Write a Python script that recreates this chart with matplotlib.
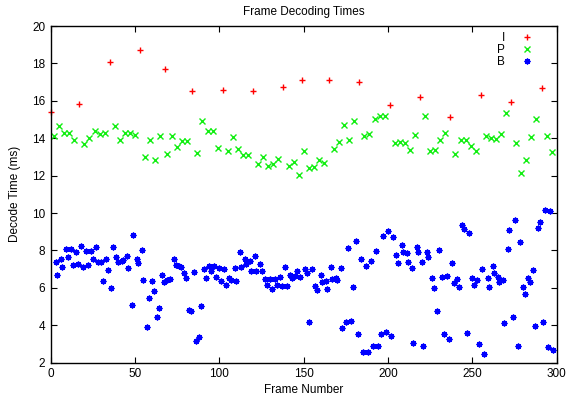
import matplotlib
matplotlib.use("Agg")
import matplotlib.pyplot as plt

plt.rcParams['font.family'] = ['Liberation Sans', 'DejaVu Sans']

# I frames
i_frames = [0, 17, 35, 53, 68, 84, 102, 120, 138, 149, 165, 183, 201, 219, 237, 255, 273, 291]
i_times = [15.38, 15.81, 18.06, 18.73, 17.72, 16.54, 16.56, 16.51, 16.72, 17.1, 17.1, 17.0,
           15.76, 16.22, 15.12, 16.33, 15.92, 16.67]

# P frames
p_frames = [2, 5, 8, 11, 14, 20, 23, 26, 29, 32, 38, 41, 44, 47, 50, 56, 59, 62, 65, 69,
            72, 75, 78, 81, 87, 90, 93, 96, 99, 105, 108, 111, 114, 117, 123, 126, 129, 132,
            135, 141, 144, 147, 150, 153, 156, 159, 162, 168, 171, 174, 177, 180, 186, 189,
            192, 195, 198, 204, 207, 210, 213, 216, 222, 225, 228, 231, 234, 240, 243, 246,
            249, 252, 258, 261, 264, 267, 270, 276, 279, 282, 285, 288, 294, 297]
p_times = [14.10, 14.64, 14.29, 14.29, 13.90, 13.71, 14.03, 14.39, 14.24, 14.29,
           14.64, 13.90, 14.29, 14.29, 14.17, 13.01, 13.92, 12.82, 14.12, 13.14,
           14.10, 13.55, 13.85, 13.85, 13.22, 14.92, 14.39, 14.39, 13.49, 13.32,
           14.06, 13.42, 13.12, 13.12, 12.62, 12.98, 12.51, 12.60, 12.90, 12.53,
           12.74, 12.05, 13.33, 12.39, 12.48, 12.82, 12.69, 13.42, 13.80, 14.71,
           13.89, 14.90, 14.10, 14.22, 15.01, 15.20, 15.19, 13.73, 13.81, 13.73,
           13.39, 14.16, 15.17, 13.30, 13.35, 13.89, 14.26, 13.14, 13.89, 13.89,
           13.58, 13.32, 14.10, 14.01, 13.96, 14.22, 15.35, 13.73, 12.16, 12.83,
           14.05, 15.04, 14.10, 13.25]

# B frames
b_frames = [3, 4, 6, 7, 9, 10, 12, 13, 15, 16, 18, 19, 21, 22, 24, 25, 27, 28, 30, 31,
            33, 34, 36, 37, 39, 40, 42, 43, 45, 46, 48, 49, 51, 52, 54, 55, 57, 58, 60, 61,
            63, 64, 66, 67, 69, 71, 73, 74, 76, 77, 79, 80, 82, 83, 85, 86, 88, 89, 91, 92,
            94, 95, 97, 98, 100, 101, 103, 104, 106, 107, 109, 110, 112, 113, 115, 116, 118, 119,
            121, 122, 124, 125, 127, 128, 130, 131, 133, 134, 136, 137, 139, 140, 142, 143,
            145, 146, 148, 151, 152, 153, 155, 157, 158, 160, 161, 163, 164, 166, 167, 169, 170,
            172, 173, 175, 176, 178, 179, 181, 182, 184, 185, 187, 188, 190, 191, 193, 194,
            196, 197, 199, 200, 202, 203, 205, 206, 208, 209, 211, 212, 214, 215, 217, 218,
            220, 221, 223, 224, 226, 227, 229, 230, 232, 233, 235, 236, 238, 239, 241, 242,
            244, 245, 247, 248, 250, 251, 253, 254, 256, 257, 259, 260, 262, 263, 265, 266,
            268, 269, 271, 272, 274, 275, 277, 278, 280, 281, 283, 284, 286, 287, 289, 290,
            292, 293, 295, 296, 298]
b_times = [7.38, 6.68, 7.52, 7.13, 8.06, 7.63, 8.09, 7.20, 7.90, 7.26, 8.24, 7.11, 7.95, 7.20,
           7.98, 7.52, 8.20, 7.40, 7.40, 6.35, 7.56, 6.94, 5.97, 8.18, 7.66, 7.40, 7.43, 7.47,
           7.68, 7.07, 5.06, 8.82, 7.52, 7.31, 8.02, 6.43, 3.90, 5.47, 6.36, 5.84, 4.42, 4.92,
           6.70, 6.31, 6.40, 6.45, 7.52, 7.20, 7.17, 7.10, 6.81, 6.51, 4.83, 4.78, 6.83, 3.17,
           3.38, 5.04, 7.02, 6.51, 7.18, 6.88, 7.18, 6.56, 7.07, 6.35, 6.99, 6.17, 6.52, 6.42,
           7.04, 6.36, 7.93, 7.11, 7.52, 7.27, 7.45, 6.91, 7.70, 6.91, 7.26, 6.90, 6.47, 6.17,
           6.47, 5.92, 6.45, 6.13, 6.59, 6.08, 7.11, 6.08, 6.70, 6.51, 6.65, 6.90, 6.58, 6.99,
           6.81, 4.16, 6.99, 6.10, 5.87, 6.70, 6.29, 6.36, 5.95, 7.11, 6.47, 6.54, 6.40, 7.06,
           3.85, 4.16, 8.11, 4.23, 6.03, 8.50, 3.51, 7.52, 2.58, 7.17, 2.58, 7.45, 2.89, 7.97,
           2.89, 3.55, 8.77, 3.62, 9.05, 3.41, 8.72, 7.74, 7.33, 8.27, 7.90, 7.88, 7.38, 7.08,
           3.03, 8.18, 7.93, 7.38, 2.89, 7.91, 7.66, 6.51, 6.01, 4.74, 8.04, 6.58, 3.55, 6.63,
           3.28, 7.31, 6.24, 6.47, 6.03, 9.37, 9.14, 3.57, 8.93, 6.51, 6.17, 6.42, 2.98, 7.01,
           2.44, 6.52, 6.06, 7.17, 6.79, 6.58, 6.31, 6.42, 4.10, 8.06, 9.09, 4.44, 9.61, 2.87,
           8.45, 6.04, 5.67, 6.51, 6.29, 6.97, 3.96, 9.20, 9.54, 4.16, 10.18, 2.83, 10.09, 2.67]

fig = plt.figure(figsize=(5.67, 3.99), dpi=100)
ax = fig.add_axes([0.0894, 0.0912, 0.8924, 0.8436])

ax.plot(i_frames, i_times, linestyle='none', marker='+', color='#ff0000',
        markersize=5, markeredgewidth=1, label='I', clip_on=False)
ax.plot(p_frames, p_times, linestyle='none', marker='x', color='#11ee11',
        markersize=4.2, markeredgewidth=1, label='P')
ax.plot(b_frames, b_times, linestyle='none', marker=(8, 2, 0), color='#0000ff',
        markersize=4.2, markeredgewidth=1, label='B')

ax.set_xlim(0, 300)
ax.set_ylim(2, 20)
ax.set_xticks(range(0, 301, 50))
ax.set_yticks(range(2, 21, 2))
ax.tick_params(direction='in', top=True, right=True, length=4, labelsize=8.5, pad=4)
for s in ax.spines.values():
    s.set_linewidth(1)

ax.set_title('Frame Decoding Times', fontsize=8.5, pad=8)
ax.set_xlabel('Frame Number', fontsize=8.5, labelpad=3)
ax.set_ylabel('Decode Time (ms)', fontsize=8.5, labelpad=8)

ax.legend(loc='upper right', bbox_to_anchor=(0.958, 0.981), frameon=False,
          markerfirst=False, fontsize=8.5, labelspacing=0.0, handlelength=1.5,
          handletextpad=1.1, borderaxespad=0, borderpad=0, numpoints=1)

fig.savefig('out.png', dpi=100)
